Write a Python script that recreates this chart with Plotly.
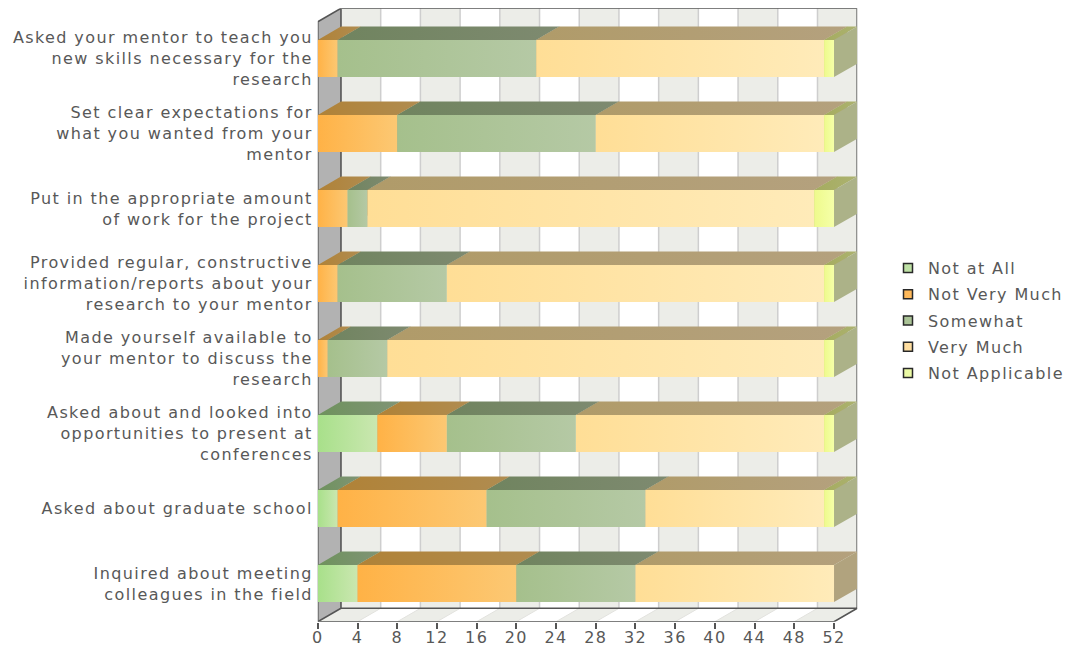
import plotly.graph_objects as go

# Survey questions, top row first
questions = [
    "Asked your mentor to teach you<br>new skills necessary for the<br>research",
    "Set clear expectations for<br>what you wanted from your<br>mentor",
    "Put in the appropriate amount<br>of work for the project",
    "Provided regular, constructive<br>information/reports about your<br>research to your mentor",
    "Made yourself available to<br>your mentor to discuss the<br>research",
    "Asked about and looked into<br>opportunities to present at<br>conferences",
    "Asked about graduate school",
    "Inquired about meeting<br>colleagues in the field",
]

# Response counts per question
not_at_all = [0, 0, 0, 0, 0, 6, 2, 4]
not_very_much = [2, 8, 3, 2, 1, 7, 15, 16]
somewhat = [20, 20, 2, 11, 6, 13, 16, 12]
very_much = [29, 23, 45, 38, 44, 25, 18, 20]
not_applicable = [1, 1, 2, 1, 1, 1, 1, 0]

x_ticks = list(range(0, 53, 4))

# Each response: name, counts, front gradient, top gradient, end-face colour, swatch
series = [
    ("Not at All", not_at_all, ("rgb(168,224,138)", "rgb(202,231,176)"),
     ("rgb(110,146,92)", "rgb(128,148,118)"), "rgb(140,160,120)", "rgb(190,225,165)"),
    ("Not Very Much", not_very_much, ("rgb(255,178,70)", "rgb(252,200,115)"),
     ("rgb(176,130,55)", "rgb(176,140,80)"), "rgb(176,140,80)", "rgb(255,185,90)"),
    ("Somewhat", somewhat, ("rgb(165,192,140)", "rgb(181,201,165)"),
     ("rgb(112,132,95)", "rgb(126,138,112)"), "rgb(126,138,112)", "rgb(170,195,150)"),
    ("Very Much", very_much, ("rgb(255,222,150)", "rgb(255,235,185)"),
     ("rgb(176,155,105)", "rgb(180,161,126)"), "rgb(177,163,126)", "rgb(255,222,160)"),
    ("Not Applicable", not_applicable, ("rgb(238,250,140)", "rgb(245,255,168)"),
     ("rgb(165,172,95)", "rgb(172,178,112)"), "rgb(172,178,136)", "rgb(235,250,165)"),
]

# Oblique projection: how far the depth of the box shifts in axis units
DEPTH_X = 2.335
DEPTH_Y = 0.1787
BAR_HALF = 0.2467
FRONT_TOP = -0.491
FRONT_BOTTOM = 7.509
X_MAX = 52
WALL_GREY = "rgb(236,237,232)"
FRAME = "rgb(85,85,85)"
GRID = "rgb(206,206,206)"
TEXT = "rgb(88,88,88)"

# Wider tracking on every label; the legend box is measured before this applies,
# so its clip has to go as well
TRACKING_CSS = """
var trackingStyle = document.createElement('style');
trackingStyle.textContent = '.main-svg text { letter-spacing: 1.4px; } '
    + '.legend .scrollbox { clip-path: none !important; }';
document.head.appendChild(trackingStyle);
"""


def polygon(xs, ys, **kwargs):
    return go.Scatter(x=xs, y=ys, mode="none", fill="toself", hoverinfo="skip",
                      showlegend=False, **kwargs)


def line(xs, ys, color, width):
    return go.Scatter(x=xs, y=ys, mode="lines", hoverinfo="skip", showlegend=False,
                      line=dict(color=color, width=width))


def gradient(pair):
    return dict(type="horizontal", colorscale=[[0, pair[0]], [1, pair[1]]])


fig = go.Figure()

back_top = FRONT_TOP - DEPTH_Y
back_bottom = FRONT_BOTTOM - DEPTH_Y

# Left side wall
fig.add_trace(polygon([0, DEPTH_X, DEPTH_X, 0, 0],
                      [FRONT_TOP, back_top, back_bottom, FRONT_BOTTOM, FRONT_TOP],
                      fillcolor="rgb(178,178,178)"))

# Alternating bands on the back wall and the floor
wall_x, wall_y, floor_x, floor_y = [], [], [], []
for start, stop in zip(x_ticks[0::2], x_ticks[1::2]):
    a, b = start + DEPTH_X, stop + DEPTH_X
    wall_x += [a, b, b, a, a, None]
    wall_y += [back_top, back_top, back_bottom, back_bottom, back_top, None]
    floor_x += [start, stop, b, a, start, None]
    floor_y += [FRONT_BOTTOM, FRONT_BOTTOM, back_bottom, back_bottom, FRONT_BOTTOM, None]
fig.add_trace(polygon(wall_x, wall_y, fillcolor=WALL_GREY))
fig.add_trace(polygon(floor_x, floor_y, fillcolor=WALL_GREY))

# Gridlines running up the wall and across the floor
grid_x, grid_y, floor_gx, floor_gy = [], [], [], []
for t in x_ticks[1:-1]:
    grid_x += [t + DEPTH_X, t + DEPTH_X, None]
    grid_y += [back_top, back_bottom, None]
for t in x_ticks[1:]:
    floor_gx += [t, t + DEPTH_X, None]
    floor_gy += [FRONT_BOTTOM, back_bottom, None]
fig.add_trace(line(grid_x, grid_y, GRID, 1.5))
fig.add_trace(line(floor_gx, floor_gy, "rgb(226,226,222)", 1))

# Outline of the box behind the bars
fig.add_trace(line(
    [0, 0, DEPTH_X, X_MAX + DEPTH_X, X_MAX + DEPTH_X, DEPTH_X, DEPTH_X, None,
     DEPTH_X, 0, X_MAX, X_MAX + DEPTH_X],
    [FRONT_BOTTOM, FRONT_TOP, back_top, back_top, back_bottom, back_bottom, back_top, None,
     back_bottom, FRONT_BOTTOM, FRONT_BOTTOM, back_bottom],
    FRAME, 1.6))

# Stacked 3D bars, drawn segment by segment from the counts
for row in range(len(questions)):
    left = 0
    top, bottom = row - BAR_HALF, row + BAR_HALF
    for name, counts, front, upper, end_face, _ in series:
        value = counts[row]
        if value == 0:
            continue
        right = left + value
        fig.add_trace(polygon(
            [left, right, right + DEPTH_X, left + DEPTH_X, left],
            [top, top, top - DEPTH_Y, top - DEPTH_Y, top],
            fillgradient=gradient(upper)))
        fig.add_trace(polygon(
            [right, right + DEPTH_X, right + DEPTH_X, right, right],
            [top, top - DEPTH_Y, bottom - DEPTH_Y, bottom, top],
            fillcolor=end_face))
        fig.add_trace(polygon(
            [left, right, right, left, left],
            [top, top, bottom, bottom, top],
            fillgradient=gradient(front)))
        left = right

# Legend entries
for name, _, _, _, _, swatch in series:
    fig.add_trace(go.Scatter(
        x=[None], y=[None], mode="markers", name=name, legendgroup=name,
        marker=dict(symbol="square", size=9, color=swatch,
                    line=dict(color="rgb(40,40,40)", width=1.5))))

fig.update_layout(
    width=1068, height=647, autosize=False,
    margin=dict(l=0, r=0, t=0, b=0, autoexpand=False),
    paper_bgcolor="white", plot_bgcolor="white",
    font=dict(family="DejaVu Sans", size=16, color=TEXT),
    showlegend=True,
    legend=dict(x=888 / 1068, y=1 - 251 / 647, xanchor="left", yanchor="top",
                tracegroupgap=2.5, bgcolor="rgba(0,0,0,0)",
                font=dict(family="DejaVu Sans", size=16, color=TEXT)),
    xaxis=dict(domain=[317.8 / 1068, 857.2 / 1068], range=[0, X_MAX + DEPTH_X],
               tickmode="array", tickvals=x_ticks, ticks="outside", ticklen=6,
               tickcolor=FRAME, tickwidth=1.5, showgrid=False, zeroline=False,
               showline=False, tickangle=0, fixedrange=True, ticklabelstandoff=-5),
    yaxis=dict(domain=[1 - 621.7 / 647, 1 - 8.3 / 647],
               range=[FRONT_BOTTOM, back_top], ticklabelstandoff=4,
               tickmode="array", tickvals=list(range(len(questions))), ticktext=questions,
               ticks="", showgrid=False, zeroline=False, showline=False, fixedrange=True),
)

fig.write_html("out.html", config=dict(displayModeBar=False), post_script=TRACKING_CSS)
